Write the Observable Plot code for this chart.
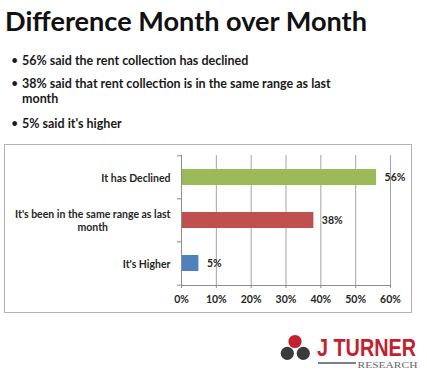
<!DOCTYPE html>
<html>
<head>
<meta charset="utf-8">
<script src="https://cdn.jsdelivr.net/npm/d3@7"></script>
<script src="https://cdn.jsdelivr.net/npm/@observablehq/plot@0.6"></script>
<style>
  html, body { margin: 0; padding: 0; background: #fff; }
  body { width: 427px; height: 371px; position: relative; overflow: hidden; font-family: Lato, "Open Sans", sans-serif; color: #111; }
  #title { position: absolute; left: 5px; top: 4px; font-weight: bold; font-size: 28px; line-height: 1.2; white-space: nowrap; }
  .bullet { position: absolute; left: 22px; font-weight: bold; font-size: 12.5px; line-height: 15px; color: #1a1a1a; white-space: nowrap; }
  .bullet::before { content: "•"; position: absolute; left: -11px; font-weight: normal; }
  #box { position: absolute; left: 4px; top: 144px; width: 408px; height: 169px; box-sizing: border-box; border: 1px solid #b4b4b4; }
  #chart { position: absolute; left: 4px; top: 144px; }
  #logo { position: absolute; left: 0; top: 0; }
</style>
</head>
<body>
<div id="title">Difference Month over Month</div>
<div class="bullet" style="top:53px">56% said the rent collection has declined</div>
<div class="bullet" style="top:76px">38% said that rent collection is in the same range as last<br>month</div>
<div class="bullet" style="top:116px">5% said it's higher</div>
<div id="box"></div>
<div id="chart"></div>
<svg id="logo" width="427" height="371">
  <circle cx="295" cy="341.5" r="6.6" fill="#c4202e"/>
  <circle cx="287.3" cy="353.3" r="6.6" fill="#3b3b3b"/>
  <circle cx="303.3" cy="353.3" r="6.6" fill="#3b3b3b"/>
  <g transform="translate(317,355.5) scale(1,1.3)">
    <text x="0" y="0" font-family="'Liberation Sans', Arial, sans-serif" font-weight="bold" font-size="19" fill="#c4202e" textLength="99" lengthAdjust="spacingAndGlyphs">J TURNER</text>
  </g>
  <line x1="318" x2="356" y1="363" y2="363" stroke="#555" stroke-width="1.5"/>
  <text x="357.5" y="367.8" font-family="'Liberation Serif', 'DejaVu Serif', serif" font-size="7.5" fill="#666" textLength="60" lengthAdjust="spacingAndGlyphs">RESEARCH</text>
</svg>
<script>
const categories = ["It has Declined", "It's been in the same range as last month", "It's Higher"];
const tickLabels = ["It has Declined", "It's been in the same range as last\nmonth", "It's Higher"];
const values = [0.56, 0.38, 0.05];
const colors = ["#9BBB59", "#C0504D", "#4F81BD"];
const xTicks = [0, 0.1, 0.2, 0.3, 0.4, 0.5, 0.6];

const data = categories.map((c, i) => ({category: c, value: values[i], color: colors[i]}));

const W = 408, H = 168, mT = 11, mB = 27, mL = 177, mR = 22;
const step = (H - mT - mB) / categories.length;
const axisColor = "#8c8c8c";
const textColor = "#262626";
const pct = d3.format(".0%");

const chart = Plot.plot({
  width: W, height: H,
  marginLeft: mL, marginRight: mR, marginTop: mT, marginBottom: mB,
  style: {fontFamily: "Lato, 'Open Sans', sans-serif", fontSize: "10px", color: textColor, background: "transparent"},
  x: {domain: [0, 0.6]},
  y: {domain: categories, paddingInner: 0.62, paddingOuter: 0.31},
  color: {type: "identity"},
  marks: [
    Plot.gridX(xTicks, {stroke: "#a3a3a3", strokeOpacity: 1}),
    Plot.barX(data, {x: "value", y: "category", fill: "color"}),
    Plot.text(data, {x: "value", y: "category", text: d => pct(d.value), dx: 8, textAnchor: "start", fontWeight: "bold", fontSize: 10.5, fill: textColor}),
    Plot.ruleX([0], {stroke: axisColor}),
    Plot.frame({anchor: "bottom", stroke: axisColor}),
    Plot.axisX(xTicks, {tickFormat: pct, tickSize: 3, tickPadding: 7, fontWeight: "bold", fontSize: 10.5, stroke: axisColor, fill: textColor, label: null}),
    Plot.axisY(categories, {tickSize: 0, tickPadding: 11, tickFormat: d => tickLabels[categories.indexOf(d)], lineHeight: 1.25, fontWeight: "bold", fontSize: 10.5, fill: textColor, label: null}),
    Plot.axisY(categories, {tickSize: 4, tickFormat: () => "", dy: -step / 2, stroke: axisColor, label: null}),
    Plot.axisY([categories[categories.length - 1]], {tickSize: 4, tickFormat: () => "", dy: step / 2, stroke: axisColor, label: null})
  ]
});
document.getElementById("chart").appendChild(chart);

// center multi-line category labels on their widest line (as in the original)
chart.querySelectorAll("text").forEach(t => {
  const spans = t.querySelectorAll("tspan");
  if (spans.length > 1) {
    let maxW = 0;
    spans.forEach(s => { maxW = Math.max(maxW, s.getComputedTextLength()); });
    t.setAttribute("text-anchor", "middle");
    spans.forEach(s => s.setAttribute("x", -maxW / 2));
  }
});

// fit title width to original
const title = document.getElementById("title");
const target = 362;
const w0 = title.getBoundingClientRect().width;
const fs = 28 * target / w0;
title.style.fontSize = fs + "px";
title.style.top = (32 - 0.987 * fs) + "px";
</script>
</body>
</html>
